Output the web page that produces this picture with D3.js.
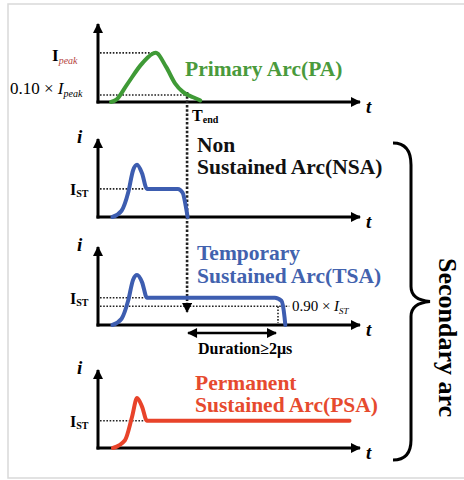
<!DOCTYPE html>
<html>
<head>
<meta charset="utf-8">
<script src="https://cdn.jsdelivr.net/npm/d3@7"></script>
<style>
  body { margin: 0; background: #fff; }
  text { font-family: "Times New Roman", "Liberation Serif", serif; }
</style>
</head>
<body>
<div id="chart"></div>
<script>
// Curve samples (t in 0..100 along the time axis, i in 0..100 of each panel height)
const paT = [5, 7, 11, 17, 22, 26, 29.4, 32.4, 36.3, 39];
const paI = [0, 3, 22, 50, 63, 45, 24, 13, 6, 2];

const nsaT = [5.5, 9, 11.5, 13.4, 14.9, 16.8, 18.7, 30.5, 32.3, 33.7, 34.2];
const nsaI = [0, 8, 31, 60, 67, 56, 36, 36, 31, 10, 0];

const tsaT = [5.5, 9, 11.5, 13.4, 14.9, 16.8, 18.7, 67.5, 70, 71.2, 71.5];
const tsaI = [0, 8, 31, 58, 64, 55, 35, 35, 31, 10, 0];

const psaT = [5.7, 10.3, 13, 14.9, 16.8, 18.7, 96];
const psaI = [0, 10, 40, 64, 53, 35, 35];

// Reference levels and times
const iPeak = 63, iPeak10 = 9, tEnd = 34;
const iSTnsa = 36, iSTtsa = 35, iST90 = 24, iSTpsa = 35;
const tDuration = 68.7;

// Labels
const arcTitles = [["Primary Arc(PA)"], ["Non", "Sustained Arc(NSA)"],
  ["Temporary", "Sustained Arc(TSA)"], ["Permanent", "Sustained Arc(PSA)"]];
const arcColors = ["#4a9a3c", "#111", "#4262ae", "#e64a2e"];
const curveColors = ["#3f9a36", "#3d5db0", "#3d5db0", "#e8432a"];

// Layout
const W = 464, H = 480;
const baseY = [102, 217, 325, 448];
const panelH = 78;

const svg = d3.select("#chart").append("svg")
  .attr("width", W).attr("height", H);

// light frame of the figure
svg.append("rect")
  .attr("x", 8).attr("y", 4).attr("width", 470).attr("height", 474)
  .attr("fill", "none").attr("stroke", "#d9d9d9").attr("stroke-width", 1.5);

const defs = svg.append("defs");
defs.append("marker")
  .attr("id", "arrow")
  .attr("viewBox", "0 0 10 10")
  .attr("refX", 9).attr("refY", 5)
  .attr("markerWidth", 12).attr("markerHeight", 10)
  .attr("markerUnits", "userSpaceOnUse")
  .attr("orient", "auto-start-reverse")
  .append("path").attr("d", "M0,0L10,5L0,10z").attr("fill", "#000");

const x = d3.scaleLinear().domain([0, 100]).range([98, 360]);
const yScales = baseY.map(b => d3.scaleLinear().domain([0, 100]).range([b, b - panelH]));

const line = (ys) => d3.line().x(d => x(d[0])).y(d => ys(d[1])).curve(d3.curveMonotoneX);

// axes for each panel
yScales.forEach((ys, k) => {
  const g = svg.append("g");
  g.append("line")
    .attr("x1", x(0) - 1.5).attr("y1", ys(0))
    .attr("x2", x(100)).attr("y2", ys(0))
    .attr("stroke", "#000").attr("stroke-width", 3)
    .attr("marker-end", "url(#arrow)");
  g.append("line")
    .attr("x1", x(0)).attr("y1", ys(0) + 1.5)
    .attr("x2", x(0)).attr("y2", ys(100))
    .attr("stroke", "#000").attr("stroke-width", 3)
    .attr("marker-end", "url(#arrow)");
  g.append("text")
    .attr("x", x(100) + 6).attr("y", ys(0) + 11)
    .attr("font-size", 19).attr("font-style", "italic").attr("font-weight", "bold")
    .text("t");
  if (k > 0) {
    g.append("text")
      .attr("x", 77).attr("y", ys(0) - 74)
      .attr("font-size", 19).attr("font-style", "italic").attr("font-weight", "bold")
      .text("i");
  }
});

// dotted helper line
function dotted(x1, y1, x2, y2, w) {
  return svg.append("line")
    .attr("x1", x1).attr("y1", y1).attr("x2", x2).attr("y2", y2)
    .attr("stroke", "#222").attr("stroke-width", w || 1.6)
    .attr("stroke-dasharray", w ? "2.5,1.8" : "1.6,1.6");
}

// reference levels
dotted(x(0) + 2, yScales[0](iPeak), x(20.5), yScales[0](iPeak));
dotted(x(0) + 2, yScales[0](iPeak10), x(tEnd), yScales[0](iPeak10));
dotted(x(0) + 2, yScales[1](iSTnsa), x(17.5), yScales[1](iSTnsa));
dotted(x(0) + 2, yScales[2](iSTtsa), x(17.5), yScales[2](iSTtsa));
dotted(x(0) + 2, yScales[2](iST90), x(73), yScales[2](iST90));
dotted(x(tDuration), yScales[2](iST90), x(tDuration), yScales[2](0) - 2);
dotted(x(0) + 2, yScales[3](iSTpsa), x(17.5), yScales[3](iSTpsa));

// T_end line running down to the TSA panel
dotted(x(tEnd), yScales[0](iPeak10) - 3, x(tEnd), yScales[2](0) - 13, 2.6)
  .attr("marker-end", "url(#arrow)");

// current curves
const curves = [[paT, paI], [nsaT, nsaI], [tsaT, tsaI], [psaT, psaI]];
curves.forEach(([ts, is], k) => {
  svg.append("path")
    .datum(ts.map((t, j) => [t, is[j]]))
    .attr("d", line(yScales[k]))
    .attr("fill", "none")
    .attr("stroke", curveColors[k])
    .attr("stroke-width", 4)
    .attr("stroke-linejoin", "round")
    .attr("stroke-linecap", "round");
});

// arc titles
const titlePos = [[185, [76]], [197, [152, 174]], [197, [260, 283]], [195, [390, 412]]];
arcTitles.forEach((lines, k) => {
  lines.forEach((s, j) => {
    svg.append("text")
      .attr("x", titlePos[k][0]).attr("y", titlePos[k][1][j])
      .attr("font-size", 21.5).attr("font-weight", "bold")
      .attr("fill", arcColors[k])
      .text(s);
  });
});

// I_peak label
const ip = svg.append("text").attr("x", 52).attr("y", yScales[0](iPeak) + 8)
  .attr("font-size", 17).attr("font-weight", "bold");
ip.append("tspan").text("I");
ip.append("tspan").attr("dy", 3).attr("font-size", 10).attr("fill", "#b5443c")
  .attr("font-weight", "normal").attr("font-style", "italic").text("peak");

// 0.10 x I_peak label
const ip10 = svg.append("text").attr("x", 10).attr("y", yScales[0](iPeak10) - 1)
  .attr("font-size", 17);
ip10.append("tspan").text("0.10 × ");
ip10.append("tspan").attr("font-style", "italic").text("I");
ip10.append("tspan").attr("dy", 3).attr("font-size", 10).attr("font-style", "italic").text("peak");

// T_end label
const te = svg.append("text").attr("x", x(tEnd) + 5).attr("y", 121)
  .attr("font-size", 16).attr("font-weight", "bold");
te.append("tspan").text("T");
te.append("tspan").attr("dy", 2).attr("font-size", 10).text("end");

// I_ST labels
[[1, iSTnsa], [2, iSTtsa], [3, iSTpsa]].forEach(([k, lv]) => {
  const t = svg.append("text").attr("x", 70).attr("y", yScales[k](lv) + 6)
    .attr("font-size", 16).attr("font-weight", "bold");
  t.append("tspan").text("I");
  t.append("tspan").attr("dy", 2).attr("font-size", 10).text("ST");
});

// 0.90 x I_ST label
const i90 = svg.append("text").attr("x", x(74)).attr("y", yScales[2](iST90) + 5)
  .attr("font-size", 15);
i90.append("tspan").text("0.90 × ");
i90.append("tspan").attr("font-style", "italic").text("I");
i90.append("tspan").attr("dy", 3).attr("font-size", 9).attr("font-style", "italic").text("ST");

// duration arrow
svg.append("line")
  .attr("x1", x(tEnd) + 1).attr("y1", yScales[2](0) + 8)
  .attr("x2", x(tDuration) - 2).attr("y2", yScales[2](0) + 8)
  .attr("stroke", "#000").attr("stroke-width", 2.5)
  .attr("marker-start", "url(#arrow)").attr("marker-end", "url(#arrow)");
svg.append("text")
  .attr("x", 198).attr("y", 354)
  .attr("font-size", 16).attr("font-weight", "bold")
  .text("Duration≥2μs");

// brace for secondary arcs
const bTop = 143, bBot = 460, bMid = (bTop + bBot) / 2;
const bp = d3.path();
bp.moveTo(393, bTop);
bp.bezierCurveTo(405, bTop, 411, bTop + 7, 411, bTop + 22);
bp.lineTo(411, bMid - 15);
bp.bezierCurveTo(411, bMid - 5, 418, bMid - 1, 430, bMid);
bp.bezierCurveTo(418, bMid + 1, 411, bMid + 5, 411, bMid + 15);
bp.lineTo(411, bBot - 20);
bp.bezierCurveTo(411, bBot - 7, 405, bBot, 393, bBot);
svg.append("path").attr("d", bp.toString())
  .attr("fill", "none").attr("stroke", "#000").attr("stroke-width", 3);

svg.append("text")
  .attr("transform", "translate(439,258) rotate(90)")
  .attr("font-size", 26).attr("font-weight", "bold")
  .text("Secondary arc");
</script>
</body>
</html>
